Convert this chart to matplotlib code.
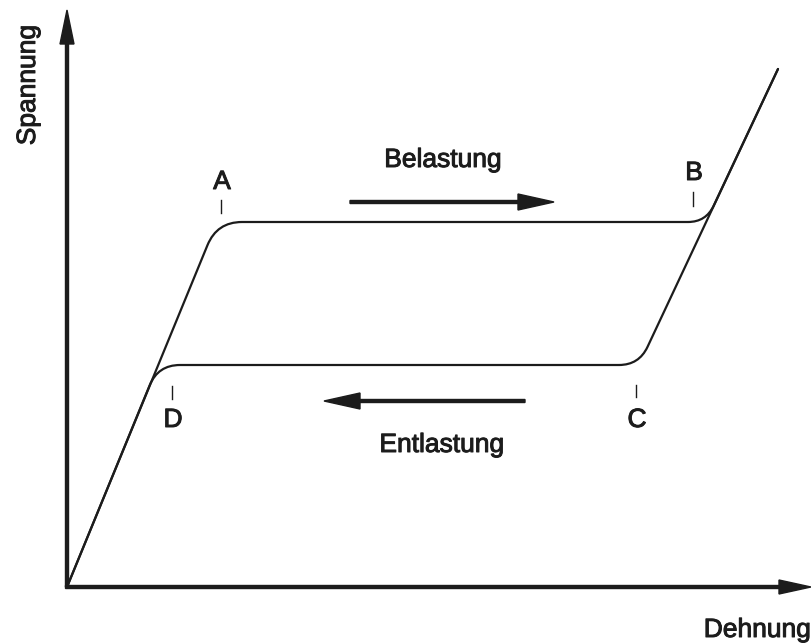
import matplotlib
matplotlib.use("Agg")
import matplotlib.pyplot as plt
from matplotlib.path import Path
from matplotlib.patches import PathPatch
import matplotlib.patheffects as pe
import numpy as np

plt.rcParams['font.family'] = ['Liberation Sans', 'DejaVu Sans']

# ---- data (schematic units: strain / stress) ----
strain_load = [0, 150, 639, 711]
stress_load = [0, 365, 365, 518]
round_load = [0, 25, 18, 0]

strain_unload = [711, 572, 91, 0]
stress_unload = [518, 222, 222, 0]
round_unload = [0, 20, 22, 0]

point_labels = ['A', 'B', 'C', 'D']
point_strain = [154, 626, 569, 105]
point_tick_lo = [374, 381, 190, 188]
point_tick_hi = [387, 395, 202, 201]
point_label_y = [405, 414, 167, 167]

axis_labels = ['Dehnung', 'Spannung']
arrow_texts = ['Belastung', 'Entlastung']

INK = '#1c1c1c'
TXT_FX = [pe.withStroke(linewidth=0.7, foreground=INK)]


def rounded_path(xs, ys, rs):
    verts = [(xs[0], ys[0])]
    codes = [Path.MOVETO]
    for i in range(1, len(xs) - 1):
        p = np.array([xs[i], ys[i]], float)
        a = np.array([xs[i - 1], ys[i - 1]], float)
        b = np.array([xs[i + 1], ys[i + 1]], float)
        r = rs[i]
        da = (a - p) / np.linalg.norm(a - p)
        db = (b - p) / np.linalg.norm(b - p)
        p1 = p + da * r
        p2 = p + db * r
        verts += [tuple(p1), tuple(p), tuple(p2)]
        codes += [Path.LINETO, Path.CURVE3, Path.CURVE3]
    verts.append((xs[-1], ys[-1]))
    codes.append(Path.LINETO)
    return Path(verts, codes)


fig = plt.figure(figsize=(8.11, 6.43), dpi=100)
ax = fig.add_axes([0, 0, 1, 1])
ax.set_xlim(-67, 744)
ax.set_ylim(-56, 587)
ax.axis('off')

# curves
for xs, ys, rs in [(strain_load, stress_load, round_load),
                   (strain_unload, stress_unload, round_unload)]:
    ax.add_patch(PathPatch(rounded_path(xs, ys, rs), fill=False,
                           edgecolor=INK, lw=1.6, capstyle='round',
                           joinstyle='round'))

# axes arrows
ax.arrow(0, 0, 0, 577, width=3, head_width=14, head_length=34,
         length_includes_head=True, color=INK, zorder=5)
ax.arrow(-1.5, 0, 745.5, 0, width=3, head_width=14, head_length=32,
         length_includes_head=True, color=INK, zorder=5)

# direction arrows
ax.arrow(283, 385, 204, 0, width=3, head_width=16, head_length=36,
         length_includes_head=True, color=INK)
ax.arrow(458, 186, -201, 0, width=3, head_width=16, head_length=36,
         length_includes_head=True, color=INK)

# point markers
for lab, x, lo, hi, ly in zip(point_labels, point_strain, point_tick_lo,
                              point_tick_hi, point_label_y):
    ax.plot([x, x], [lo, hi], color=INK, lw=1.0)
    ax.text(x + 1, ly, lab, ha='center', va='center', fontsize=19, color=INK,
            path_effects=TXT_FX)

# texts
ax.text(376, 420, arrow_texts[0], ha='center', va='baseline', fontsize=19,
        color=INK, path_effects=TXT_FX)
ax.text(375, 135, arrow_texts[1], ha='center', va='baseline', fontsize=19,
        color=INK, path_effects=TXT_FX)
ax.text(744, -50, axis_labels[0], ha='right', va='baseline', fontsize=19,
        color=INK, path_effects=TXT_FX)
ax.text(-39, 502, axis_labels[1], ha='center', va='center', rotation=90,
        fontsize=19, color=INK, path_effects=TXT_FX)

fig.savefig('out.png', dpi=100)
